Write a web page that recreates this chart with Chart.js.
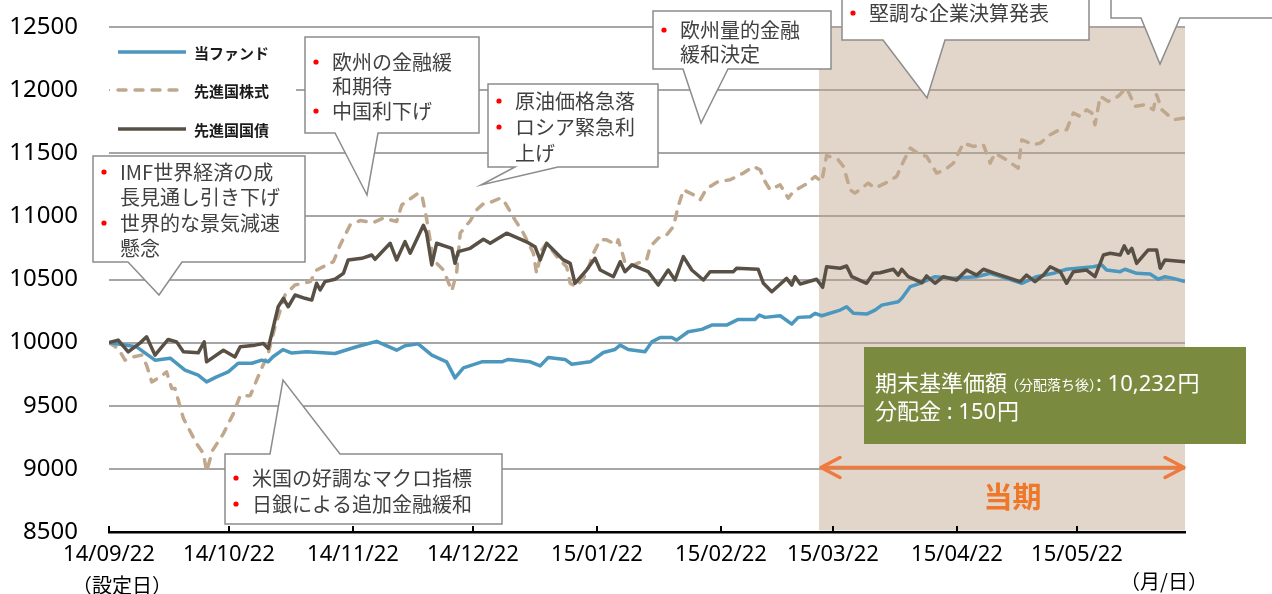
<!DOCTYPE html>
<html>
<head>
<meta charset="utf-8">
<script src="https://cdn.jsdelivr.net/npm/chart.js@4.4.1/dist/chart.umd.min.js"></script>
<style>
  html, body { margin: 0; padding: 0; background: #fff; }
  canvas { display: block; }
</style>
</head>
<body>
<canvas id="chart" width="1272" height="594"></canvas>
<script>
"use strict";

// x = days since 2014/09/22 (設定日)
const tickDays   = [0, 30, 61, 91, 122, 153, 181, 212, 242];
const tickLabels = ['14/09/22', '14/10/22', '14/11/22', '14/12/22', '15/01/22', '15/02/22', '15/03/22', '15/04/22', '15/05/22'];
const periodStart = 177.5;   // 当期 start
const lastDay = 269;

const fundDays = [0,6.9,11.5,15.3,19,22.3,24.4,26.9,29.8,32.3,35.7,38.2,39.8,41,43.5,45.7,49.4,56.5,61.9,66.9,71.9,74,77.3,80.7,84.4,86.5,88.6,93.2,98.2,99.8,105.3,107.8,109.8,114,115.7,120.3,123.6,126.5,127.8,129.8,134,135.7,137.8,140.7,141.9,144.8,148.2,150.7,154.4,157.3,161.5,162.6,164,167.8,170.7,172.3,175.3,176.5,178.2,182.8,184.4,186.1,189.4,191.5,193.2,197.3,198.2,200.3,202.8,206.5,211.1,216.9,220.3,224.4,228.2,231.9,236.1,239.4,246.1,248.2,249.4,252.8,254,256.9,260.3,262.3,264,266.1,269];
const fundNav = [10000,9967,9861,9877,9782,9742,9689,9729,9768,9837,9837,9861,9848,9888,9945,9917,9927,9914,9967,10010,9940,9975,9990,9901,9848,9721,9800,9848,9848,9867,9848,9816,9882,9867,9829,9848,9922,9946,9980,9946,9927,10006,10041,10041,10020,10086,10105,10139,10139,10184,10184,10218,10200,10213,10147,10200,10205,10232,10213,10258,10284,10232,10226,10258,10297,10324,10351,10443,10470,10522,10509,10522,10549,10509,10470,10522,10549,10581,10601,10615,10575,10562,10581,10549,10543,10502,10522,10509,10483];

const stockDays = [0,2.3,4,6.1,8.2,9.4,10.7,12.8,14.4,15.7,16.5,18.6,21.9,23.6,24.4,25.9,28.6,31.1,32.8,35.3,37.8,39.8,41.5,44,46.5,50.3,51.9,56.1,57.8,60.3,62.8,66.1,68.6,71.9,73.2,77.3,78.2,79.4,81.1,83.6,85.7,86.9,87.8,90.3,91.9,93.6,95.3,97.8,98.6,101.5,103.6,106.1,106.9,108.2,109.4,112.3,114.4,115.3,116.9,119.4,121.1,122.8,124.4,126.9,127.3,128.6,129,131.1,134.4,135.3,137.3,139.4,141.1,142.3,143.6,146.1,147.8,149,150.3,152.3,155.3,158.6,161.1,162.8,164,165.3,167.8,169.8,171.1,174,176.5,178.2,179.4,182.3,183.6,185.3,186.5,189.8,191.5,194.4,196.9,198.6,200.3,202.8,204.4,206.9,209,211.1,213.6,216.1,218.6,220.3,221.5,224.4,227.3,228.2,231.1,232.8,235.3,237.3,239.4,241.1,242.8,244.4,245.7,246.5,247.8,249.8,252.3,254.4,256.5,259,261.1,261.9,263.2,266.1,269];
const stockIdx = [10000,9954,9861,9887,9901,9821,9689,9729,9768,9636,9636,9400,9200,9121,8980,9147,9279,9438,9580,9580,9770,9914,10125,10377,10456,10483,10575,10641,10774,10933,10967,10951,10986,10959,11091,11184,11171,10980,10655,10575,10410,10550,10867,10965,11052,11100,11110,11144,11131,10972,10867,10708,10549,10734,10787,10668,10601,10470,10443,10549,10708,10814,10814,10774,10814,10681,10628,10615,10655,10760,10827,10853,10919,11078,11210,11171,11131,11197,11237,11276,11290,11343,11395,11369,11276,11210,11250,11144,11197,11250,11316,11276,11482,11448,11395,11210,11184,11263,11224,11268,11316,11435,11541,11488,11475,11343,11369,11422,11580,11554,11567,11422,11501,11448,11382,11607,11567,11580,11647,11681,11686,11819,11792,11845,11819,11726,11951,11911,11951,12018,11872,11885,11845,11964,11845,11766,11779];

const bondDays = [0,2.3,4.8,7.8,9.4,11.5,14.8,16.9,18.6,22.3,23.8,24.4,28.6,31.5,32.8,36.5,38.6,39.8,42.3,43.6,44.8,46.5,49,50.7,51.9,52.8,54,56.5,58.6,59.8,63.2,65.7,66.5,70.3,71.9,74,75.3,78.6,79.4,80.7,81.9,85.7,86.5,87.3,90.3,93.6,95.3,99.4,104.8,106.5,107.8,109.4,113.6,115.3,116.5,119.4,121.5,122.8,126.1,127.8,129,130.7,134.8,137.3,139.8,141.5,143.6,145.7,148.6,150.3,156.1,156.9,162.3,163.6,165.7,169.4,170.7,171.5,172.8,176.9,178.4,179.4,182.8,184.4,185.7,189.4,191.1,192.8,196.1,197.3,198.2,199.8,203.2,204.4,206.5,208.6,211.9,214.4,216.9,218.6,221.5,227.8,229.4,231.5,233.6,235.3,237.8,239.4,241.1,244.4,246.5,248.6,250.3,252.8,253.8,254.8,255.7,256.9,259.8,261.9,262.8,264,269];
const bondIdx = [10000,10020,9927,9998,10046,9901,10025,10006,9927,9919,10006,9848,9940,9887,9967,9980,9993,9954,10284,10351,10284,10377,10351,10337,10470,10417,10483,10502,10549,10655,10668,10694,10660,10787,10655,10800,10708,10930,10867,10615,10787,10747,10628,10721,10747,10819,10787,10867,10792,10760,10655,10787,10655,10628,10470,10575,10668,10575,10522,10641,10562,10615,10562,10456,10575,10496,10681,10575,10496,10562,10562,10589,10581,10470,10403,10509,10456,10522,10464,10502,10438,10601,10589,10607,10522,10470,10549,10554,10581,10535,10581,10522,10475,10528,10470,10522,10496,10575,10535,10581,10549,10483,10535,10483,10535,10601,10562,10470,10562,10575,10522,10694,10708,10694,10766,10708,10747,10628,10734,10734,10589,10655,10641];

const CJK = "'Noto Sans CJK JP', 'Noto Sans', sans-serif";
const NUM = "'Noto Sans', 'Noto Sans CJK JP', sans-serif";

// speech-bubble notes: box [l, t, r, b], pointer [base1, tipX, tipY, base2]
const callouts = [
    {box: [93, 156, 305, 262], side: 'bottom', ptr: [128, 159, 295, 182], y0: 172, dy: 25.5,
        lines: [['IMF世界経済の成', true], ['長見通し引き下げ', false], ['世界的な景気減速', true], ['懸念', false]]},
    {box: [305, 37, 479, 133], side: 'bottom', ptr: [335, 367, 195, 378], y0: 62, dy: 24.5,
        lines: [['欧州の金融緩', true], ['和期待', false], ['中国利下げ', true]]},
    {box: [488, 84, 658, 167], side: 'bottom', ptr: [515, 481, 185, 558], y0: 101, dy: 26,
        lines: [['原油価格急落', true], ['ロシア緊急利', true], ['上げ', false]]},
    {box: [653, 11, 831, 69], side: 'bottom', ptr: [683, 701, 123, 728], y0: 30, dy: 24,
        lines: [['欧州量的金融', true], ['緩和決定', false]]},
    {box: [842, -40, 1089, 40], side: 'bottom', ptr: [883, 927, 98, 945], y0: 13, dy: 25,
        lines: [['堅調な企業決算発表', true]]},
    {box: [1111, -40, 1290, 18], side: 'bottom', ptr: [1141, 1160, 64, 1180], y0: -10, dy: 25,
        lines: []},
    {box: [225, 454, 502, 524], side: 'top', ptr: [270, 283, 380, 340], y0: 478, dy: 26,
        lines: [['米国の好調なマクロ指標', true], ['日銀による追加金融緩和', true]]}
];

function toPoints(days, values) {
    const n = Math.min(days.length, values.length);
    const pts = [];
    for (let i = 0; i < n; i++) pts.push({x: days[i], y: values[i]});
    return pts;
}

function drawCallout(ctx, c) {
    const [l, t, r, b] = c.box;
    const [p1, tx, ty, p2] = c.ptr;
    ctx.beginPath();
    if (c.side === 'top') {
        ctx.moveTo(l, t); ctx.lineTo(p1, t); ctx.lineTo(tx, ty); ctx.lineTo(p2, t);
        ctx.lineTo(r, t); ctx.lineTo(r, b); ctx.lineTo(l, b);
    } else {
        ctx.moveTo(l, t); ctx.lineTo(r, t); ctx.lineTo(r, b); ctx.lineTo(p2, b);
        ctx.lineTo(tx, ty); ctx.lineTo(p1, b); ctx.lineTo(l, b);
    }
    ctx.closePath();
    ctx.fillStyle = '#fff';
    ctx.fill();
    ctx.strokeStyle = '#8c8c8c';
    ctx.lineWidth = 1.5;
    ctx.stroke();

    ctx.font = '20px ' + CJK;
    ctx.textBaseline = 'middle';
    ctx.textAlign = 'left';
    c.lines.forEach(([text, bullet], i) => {
        const y = c.y0 + i * c.dy;
        if (bullet) {
            ctx.fillStyle = '#ff0000';
            ctx.beginPath();
            ctx.arc(l + 11, y, 2.6, 0, Math.PI * 2);
            ctx.fill();
        }
        ctx.fillStyle = '#404040';
        ctx.fillText(text, l + 27, y);
    });
}

const decorPlugin = {
    id: 'decor',
    beforeDatasetsDraw(chart) {
        const {ctx, chartArea, scales: {x}} = chart;
        const x0 = x.getPixelForValue(periodStart);
        ctx.save();
        ctx.fillStyle = 'rgba(190,165,140,0.45)';
        ctx.fillRect(x0, chartArea.top, chartArea.right - x0, chartArea.bottom - chartArea.top - 1.5);
        ctx.restore();
    },
    afterDraw(chart) {
        const {ctx, chartArea, scales: {x}} = chart;
        ctx.save();

        // inward tick marks on the date axis
        ctx.strokeStyle = '#000';
        ctx.lineWidth = 2;
        tickDays.forEach(d => {
            const px = Math.round(x.getPixelForValue(d));
            ctx.beginPath();
            ctx.moveTo(px, chartArea.bottom);
            ctx.lineTo(px, chartArea.bottom - 6);
            ctx.stroke();
        });

        // legend
        ctx.fillStyle = '#fff';
        ctx.fillRect(chartArea.left + 1, 32, 186, 117);
        const legendY = [52, 90, 129];
        chart.data.datasets.forEach((ds, i) => {
            ctx.beginPath();
            ctx.strokeStyle = ds.borderColor;
            ctx.lineWidth = ds.borderWidth;
            ctx.lineCap = ds.borderCapStyle || 'butt';
            ctx.setLineDash(ds.borderDash || []);
            ctx.moveTo(chartArea.left + 9, legendY[i]);
            ctx.lineTo(chartArea.left + 77, legendY[i]);
            ctx.stroke();
            ctx.setLineDash([]);
            ctx.lineCap = 'butt';
            ctx.fillStyle = '#1a1a1a';
            ctx.font = 'bold 15px ' + CJK;
            ctx.textBaseline = 'middle';
            ctx.textAlign = 'left';
            ctx.fillText(ds.label, chartArea.left + 85, legendY[i] + 1);
        });

        callouts.forEach(c => drawCallout(ctx, c));

        // fund result box
        ctx.fillStyle = '#7a8b40';
        ctx.fillRect(864, 347, 382, 97);
        ctx.fillStyle = '#fff';
        ctx.textBaseline = 'alphabetic';
        let tx = 875;
        ctx.font = '22px ' + CJK;
        ctx.fillText('期末基準価額', tx, 391);
        tx += ctx.measureText('期末基準価額').width;
        ctx.font = '14px ' + CJK;
        ctx.fillText('（分配落ち後）', tx - 2, 390);
        tx += ctx.measureText('（分配落ち後）').width - 9;
        ctx.font = '22px ' + NUM;
        ctx.fillText(': 10,232', tx, 391);
        tx += ctx.measureText(': 10,232').width;
        ctx.font = '22px ' + CJK;
        ctx.fillText('円', tx + 1, 391);
        ctx.fillText('分配金', 875, 419);
        let tx2 = 875 + ctx.measureText('分配金').width;
        ctx.font = '22px ' + NUM;
        ctx.fillText(' : 150', tx2, 419);
        tx2 += ctx.measureText(' : 150').width;
        ctx.font = '22px ' + CJK;
        ctx.fillText('円', tx2 + 1, 419);

        // current period arrow
        const ax0 = x.getPixelForValue(periodStart) + 2;
        const ax1 = chartArea.right - 1;
        const ay = 467.5;
        ctx.strokeStyle = '#ee7a3e';
        ctx.lineWidth = 3.5;
        ctx.lineCap = 'round';
        ctx.lineJoin = 'round';
        ctx.beginPath();
        ctx.moveTo(ax0, ay); ctx.lineTo(ax1, ay);
        ctx.moveTo(ax0 + 19, ay - 10); ctx.lineTo(ax0, ay); ctx.lineTo(ax0 + 19, ay + 10);
        ctx.moveTo(ax1 - 19, ay - 10); ctx.lineTo(ax1, ay); ctx.lineTo(ax1 - 19, ay + 10);
        ctx.stroke();
        ctx.fillStyle = '#f07628';
        ctx.font = 'bold 29px ' + CJK;
        ctx.textAlign = 'center';
        ctx.textBaseline = 'middle';
        ctx.fillText('当期', (ax0 + ax1) / 2 + 10, 497);

        // axis notes
        ctx.fillStyle = '#000';
        ctx.font = '20px ' + CJK;
        ctx.fillText('（設定日）', 122, 585);
        ctx.fillText('（月/日）', 1164, 581);
        ctx.restore();
    }
};

new Chart(document.getElementById('chart'), {
    type: 'line',
    data: {
        datasets: [{
            label: '当ファンド',
            data: toPoints(fundDays, fundNav),
            borderColor: '#4b97be',
            borderWidth: 3.5,
            order: 1
        }, {
            label: '先進国株式',
            data: toPoints(stockDays, stockIdx),
            borderColor: '#bfa88d',
            borderWidth: 3.5,
            borderDash: [8, 9],
            borderCapStyle: 'round',
            order: 2
        }, {
            label: '先進国国債',
            data: toPoints(bondDays, bondIdx),
            borderColor: '#595045',
            borderWidth: 3.5,
            order: 0
        }]
    },
    options: {
        responsive: false,
        animation: false,
        devicePixelRatio: 1,
        layout: {padding: {top: 27, right: 87, left: 0, bottom: 0}},
        elements: {
            point: {radius: 0},
            line: {tension: 0, borderJoinStyle: 'round', fill: false}
        },
        plugins: {legend: {display: false}, tooltip: {enabled: false}},
        scales: {
            x: {
                type: 'linear',
                min: 0,
                max: lastDay,
                afterBuildTicks: axis => { axis.ticks = tickDays.map(v => ({value: v})); },
                ticks: {
                    callback: v => { const i = tickDays.indexOf(v); return i < 0 ? '' : tickLabels[i]; },
                    font: {family: NUM, size: 22},
                    color: '#000',
                    padding: 10,
                    maxRotation: 0,
                    autoSkip: false
                },
                grid: {display: false, drawTicks: false},
                border: {display: true, color: '#000', width: 2.5},
                afterFit: s => { s.height = 62; }
            },
            y: {
                min: 8500,
                max: 12500,
                ticks: {stepSize: 500, callback: v => String(v), font: {family: NUM, size: 24}, color: '#000', padding: 0},
                grid: {color: '#a6a6a6', lineWidth: 2, drawTicks: true, tickLength: 31, tickColor: 'rgba(0,0,0,0)'},
                border: {display: false},
                afterFit: s => { s.width = 109; }
            }
        }
    },
    plugins: [decorPlugin]
});
</script>
</body>
</html>
